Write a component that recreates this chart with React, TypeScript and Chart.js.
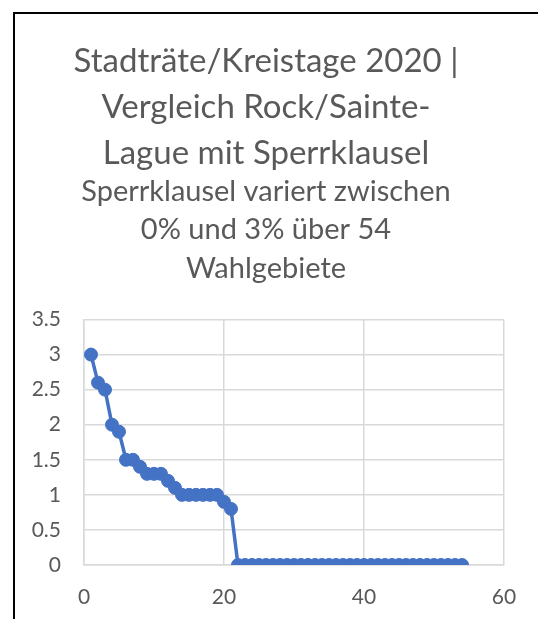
import React, { useEffect, useRef } from "react";
import { Chart, registerables } from "chart.js";

Chart.register(...registerables);

const titleLines = ["Stadträte/Kreistage 2020 |", "Vergleich Rock/Sainte-", "Lague mit Sperrklausel"];
const subtitleLines = ["Sperrklausel variert zwischen", "0% und 3% über 54", "Wahlgebiete"];

const xValues = [
  1, 2, 3, 4, 5, 6, 7, 8, 9, 10, 11, 12, 13, 14, 15, 16, 17, 18, 19, 20,
  21, 22, 23, 24, 25, 26, 27, 28, 29, 30, 31, 32, 33, 34, 35, 36, 37, 38, 39, 40,
  41, 42, 43, 44, 45, 46, 47, 48, 49, 50, 51, 52, 53, 54,
];
const yValues = [
  3.0, 2.6, 2.5, 2.0, 1.9, 1.5, 1.5, 1.4, 1.3, 1.3, 1.3, 1.2, 1.1, 1.0, 1.0, 1.0, 1.0, 1.0, 1.0, 0.9,
  0.8, 0, 0, 0, 0, 0, 0, 0, 0, 0, 0, 0, 0, 0, 0, 0, 0, 0, 0, 0,
  0, 0, 0, 0, 0, 0, 0, 0, 0, 0, 0, 0, 0, 0,
];

const xMin = 0, xMax = 60, xStep = 20;
const yMin = 0, yMax = 3.5, yStep = 0.5;

export default function App() {
  const ref = useRef<HTMLCanvasElement | null>(null);
  useEffect(() => {
    if (!ref.current) return;
    const textColor = "#595959";
    const gridColor = "#d9d9d9";
    const chart = new Chart(ref.current, {
      type: "scatter",
      data: {
        datasets: [
          {
            data: xValues.map((x, i) => ({ x, y: yValues[i] })),
            showLine: true,
            borderColor: "#4472C4",
            backgroundColor: "#4472C4",
            borderWidth: 3.5,
            pointRadius: 6.5,
            pointBorderWidth: 1,
            pointBorderColor: "#4472C4",
            pointBackgroundColor: "#4472C4",
          },
        ],
      },
      options: {
        responsive: false,
        animation: false,
        layout: { padding: { left: 28, right: 34, top: 0, bottom: 0 } },
        plugins: {
          legend: { display: false },
          tooltip: { enabled: false },
          title: {
            display: true,
            text: titleLines,
            color: textColor,
            font: { family: "Lato", size: 33, weight: "normal", lineHeight: 46 / 33 },
            padding: { top: 38, bottom: 0 },
          },
          subtitle: {
            display: true,
            text: subtitleLines,
            color: textColor,
            font: { family: "Lato", size: 29, weight: "normal", lineHeight: 38.5 / 29 },
            padding: { top: -4, bottom: 32 },
          },
        },
        scales: {
          x: {
            type: "linear",
            min: xMin,
            max: xMax,
            ticks: { stepSize: xStep, color: textColor, font: { family: "Lato", size: 21 }, padding: 20 },
            grid: { color: gridColor, drawTicks: false, lineWidth: 1.5 },
            border: { color: gridColor, width: 1.5 },
            afterFit: (s: any) => { s.height = 54; },
          },
          y: {
            type: "linear",
            min: yMin,
            max: yMax,
            ticks: {
              stepSize: yStep,
              color: textColor,
              font: { family: "Lato", size: 21 },
              padding: 23,
              callback: (v: any) => String(Number(v)),
            },
            grid: { color: gridColor, drawTicks: false, lineWidth: 1.5 },
            border: { color: gridColor, width: 1.5 },
            afterFit: (s: any) => { s.width = 56; },
          },
        },
      },
    });
    return () => chart.destroy();
  }, []);
  return (
    <div style={{ position: "fixed", left: 0, top: 0, width: 538, height: 619, overflow: "hidden", background: "#fff" }}>
      <div
        style={{
          position: "absolute",
          left: 13,
          top: 12,
          right: 0,
          bottom: 0,
          marginRight: -10,
          marginBottom: -10,
          borderLeft: "2px solid #000",
          borderTop: "2px solid #000",
        }}
      />
      <canvas ref={ref} width={538} height={619} style={{ position: "absolute", left: 0, top: 0, width: 538, height: 619 }} />
    </div>
  );
}
